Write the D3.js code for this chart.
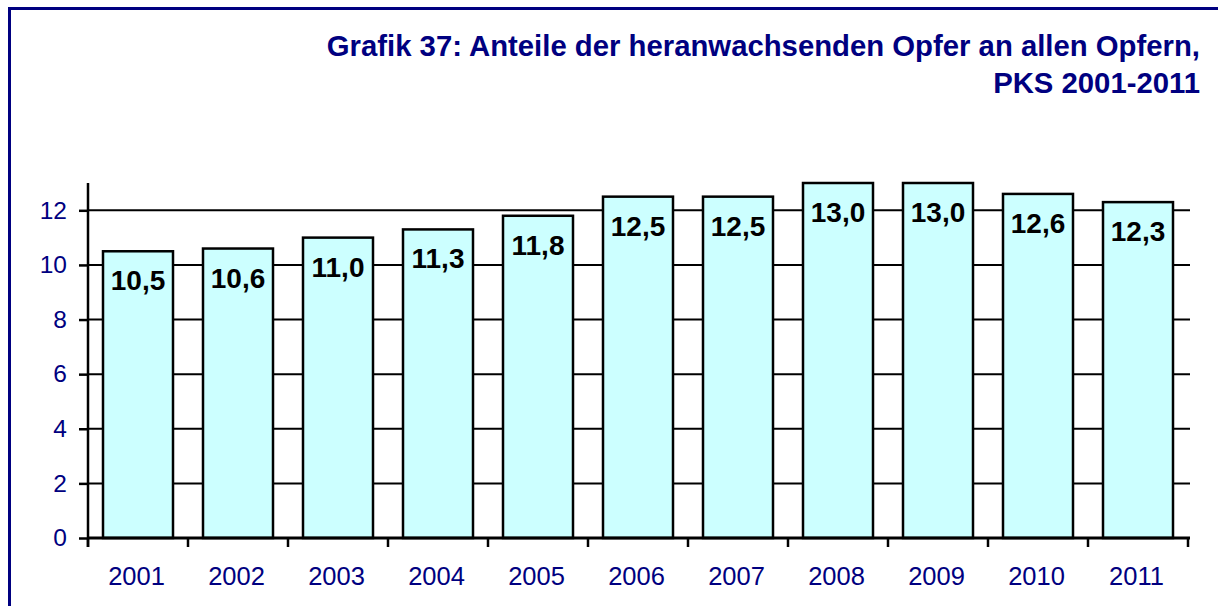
<!DOCTYPE html>
<html>
<head>
<meta charset="utf-8">
<script src="https://cdn.jsdelivr.net/npm/d3@7"></script>
<style>
  html, body { margin: 0; padding: 0; background: #fff; }
  svg { display: block; }
  text { font-family: "Liberation Sans", Arial, Helvetica, sans-serif; }
</style>
</head>
<body>
<svg id="chart" width="1218" height="606"></svg>
<script>
// Anteile der heranwachsenden Opfer an allen Opfern (%), PKS 2001-2011
const years = ["2001", "2002", "2003", "2004", "2005", "2006", "2007", "2008", "2009", "2010", "2011"];
const shares = [10.5, 10.6, 11.0, 11.3, 11.8, 12.5, 12.5, 13.0, 13.0, 12.6, 12.3];
const yTicks = [0, 2, 4, 6, 8, 10, 12];
const titleLines = ["Grafik 37: Anteile der heranwachsenden Opfer an allen Opfern,", "PKS 2001-2011"];

const navy = "#000080";
const svg = d3.select("#chart");

// German number format: decimal comma
const de = d3.formatLocale({ decimal: ",", thousands: ".", grouping: [3], currency: ["", " €"] });
const fmt = de.format(".1f");

// Frame
svg.append("rect")
  .attr("x", 9.5).attr("y", 8.5)
  .attr("width", 1300).attr("height", 700)
  .attr("fill", "none").attr("stroke", navy).attr("stroke-width", 3);

// Title, right aligned
const title = svg.append("text")
  .attr("text-anchor", "end")
  .attr("fill", navy)
  .attr("font-weight", "bold")
  .attr("font-size", 29.3);
title.selectAll("tspan").data(titleLines).join("tspan")
  .attr("x", 1200)
  .attr("y", (d, i) => 56 + i * 37)
  .text(d => d);

// Plot area
const x0 = 88, x1 = 1188, yTop = 183, yBase = 538;

const x = d3.scaleBand().domain(years).range([x0, x1]).paddingInner(0.3).paddingOuter(0.15);
const y = d3.scaleLinear().domain([0, 13]).range([yBase, yTop]);

// Horizontal gridlines
svg.append("g").selectAll("line").data(yTicks.filter(t => t > 0)).join("line")
  .attr("x1", x0).attr("x2", x1 + 2)
  .attr("y1", d => y(d)).attr("y2", d => y(d))
  .attr("stroke", "#000").attr("stroke-width", 2);

// Bars
svg.append("g").selectAll("rect").data(shares).join("rect")
  .attr("x", (d, i) => x(years[i]))
  .attr("y", d => y(d))
  .attr("width", x.bandwidth())
  .attr("height", d => yBase - y(d))
  .attr("fill", "#CCFFFF")
  .attr("stroke", "#000")
  .attr("stroke-width", 2.5);

// Value labels inside the bar tops
svg.append("g").selectAll("text").data(shares).join("text")
  .attr("x", (d, i) => x(years[i]) + x.bandwidth() / 2)
  .attr("y", d => y(d) + 39)
  .attr("text-anchor", "middle")
  .attr("font-weight", "bold")
  .attr("font-size", 28)
  .attr("fill", "#000")
  .text(d => fmt(d));

// Y axis
const yAxis = svg.append("g")
  .attr("transform", `translate(${x0},0)`)
  .call(d3.axisLeft(y).tickValues(yTicks).tickSize(9).tickPadding(12).tickFormat(d3.format("d")));
yAxis.select(".domain").remove();
yAxis.selectAll(".tick line").attr("stroke", "#000").attr("stroke-width", 2.5);
yAxis.selectAll(".tick text")
  .attr("fill", navy).attr("font-size", 24.5)
  .attr("font-family", "'Liberation Sans', Arial, sans-serif");
svg.append("line")
  .attr("x1", x0).attr("x2", x0).attr("y1", yTop).attr("y2", yBase + 9)
  .attr("stroke", "#000").attr("stroke-width", 2.5);

// X axis: baseline, category boundary ticks, year labels
svg.append("line")
  .attr("x1", x0).attr("x2", x1 + 2).attr("y1", yBase).attr("y2", yBase)
  .attr("stroke", "#000").attr("stroke-width", 3);
const bounds = years.map(yr => x(yr) - x.step() * x.paddingInner() / 2).concat([x1]);
svg.append("g").selectAll("line").data(bounds).join("line")
  .attr("x1", d => d).attr("x2", d => d)
  .attr("y1", yBase).attr("y2", yBase + 9)
  .attr("stroke", "#000").attr("stroke-width", 2.5);
svg.append("g").selectAll("text").data(years).join("text")
  .attr("x", d => x(d) + x.bandwidth() / 2 - 1.5)
  .attr("y", 584.5)
  .attr("text-anchor", "middle")
  .attr("fill", navy)
  .attr("font-size", 25.5)
  .text(d => d);
</script>
</body>
</html>
